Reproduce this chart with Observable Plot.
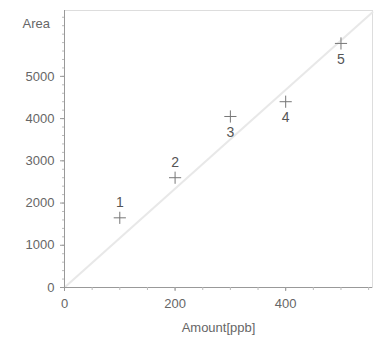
<!DOCTYPE html>
<html><head><meta charset="utf-8">
<script src="https://cdn.jsdelivr.net/npm/d3@7"></script>
<script src="https://cdn.jsdelivr.net/npm/@observablehq/plot@0.6"></script>
<style>body{margin:0;background:#fff;font-family:"Liberation Sans",Arial,sans-serif}</style>
</head><body><div id="chart"></div>
<script>
const pointIds = ["1","2","3","4","5"];
const amounts = [100, 200, 300, 400, 500];
const areas = [1650, 2600, 4050, 4400, 5780];
const fitX = [0, 557];
const fitY = [0, 6520];
const xTicks = [0, 200, 400];
const yTicks = [0, 1000, 2000, 3000, 4000, 5000];
const xMinor = d3.range(0, 557, 50);
const yMinor = d3.range(0, 6500, 200);

const pts = pointIds.map((id, i) => ({id, x: amounts[i], y: areas[i], above: i < 2}));
const fit = fitX.map((x, i) => ({x, y: fitY[i]}));
const grey = "#666";

const chart = Plot.plot({
  width: 374, height: 337,
  marginLeft: 64, marginRight: 2, marginTop: 10, marginBottom: 50,
  style: {fontFamily: "Liberation Sans, Arial, sans-serif", fontSize: "13px", color: grey, background: "#fff"},
  x: {type: "linear", domain: [0, 557], axis: null},
  y: {type: "linear", domain: [0, 6560], axis: null},
  marks: [
    Plot.frame({stroke: "#ddd"}),
    Plot.line(fit, {x: "x", y: "y", stroke: "#e8e8e8", strokeWidth: 2}),
    Plot.ruleX([0], {stroke: "#999"}),
    Plot.ruleY([0], {stroke: "#999"}),
    Plot.axisX({ticks: xMinor, tickSize: 3, tickFormat: () => "", stroke: "#bbb", label: null}),
    Plot.axisX({ticks: xTicks, tickSize: 4, tickPadding: 7, tickFormat: "d", stroke: "#999", color: grey, fontSize: 13, label: "Amount[ppb]", labelAnchor: "center", labelArrow: "none", labelOffset: 44}),
    Plot.axisY({ticks: yMinor, tickSize: 2, tickFormat: () => "", stroke: "#bbb", label: null}),
    Plot.axisY({ticks: yTicks, tickSize: 4, tickPadding: 6, tickFormat: "d", stroke: "#999", color: grey, fontSize: 13, label: null}),
    Plot.text(["Area"], {frameAnchor: "top-left", dx: -42, dy: 8, fill: grey, fontSize: 13}),
    Plot.dot(pts, {x: "x", y: "y", symbol: "plus", r: 4, stroke: "#777", strokeWidth: 1}),
    Plot.text(pts.filter(d => d.above), {x: "x", y: "y", text: "id", dy: -15, fill: "#555", fontSize: 14}),
    Plot.text(pts.filter(d => !d.above), {x: "x", y: "y", text: "id", dy: 16, fill: "#555", fontSize: 14})
  ]
});
document.getElementById("chart").appendChild(chart);
</script></body></html>
